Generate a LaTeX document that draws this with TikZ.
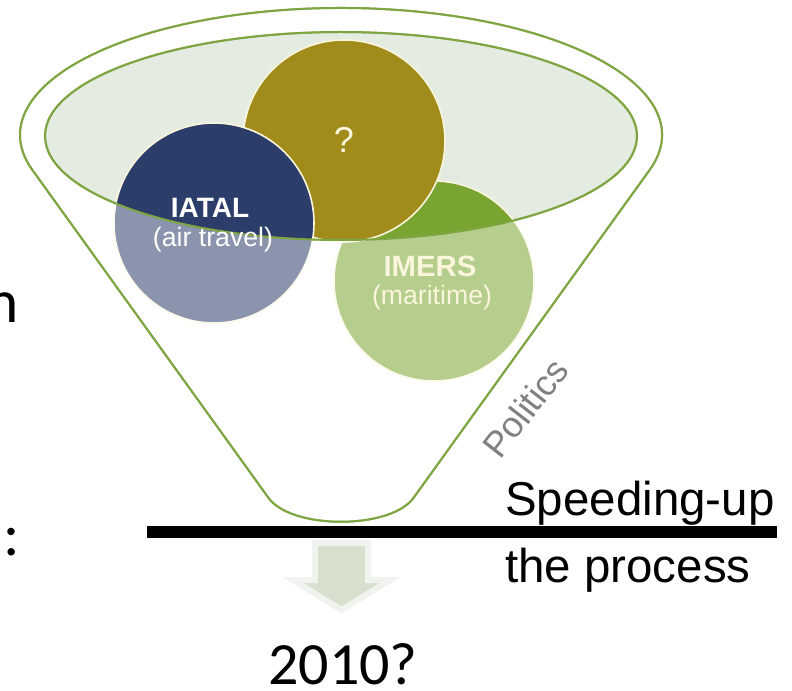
\documentclass[tikz,border=0pt]{standalone}
\usepackage{fontspec}
\setmainfont{Liberation Sans}
\newfontfamily\calfont{Carlito}
\definecolor{rimgreen}{HTML}{7EA541}
\definecolor{bowlfill}{HTML}{E4EBE0}
\definecolor{navy}{HTML}{2C3D6A}
\definecolor{olive}{HTML}{A08B1B}
\definecolor{leafgreen}{HTML}{7AA431}
\definecolor{ringcream}{HTML}{FAF6DC}
\definecolor{arrowfill}{HTML}{D6E0CC}
\definecolor{arrowglow}{HTML}{F1F4EE}
\definecolor{politicsgray}{HTML}{808080}
% outline of the funnel: top rim arc, straight sides, rounded bottom
\newcommand{\funnelOutline}{%
  (649.7,520.2) arc[start angle=-15.9, end angle=195.9, x radius=321, y radius=127]
  -- (267.9,193) .. controls (290,160) and (392,160) .. (414.1,193) -- cycle}
\newcommand{\bowlOutline}{(341,554) ellipse[x radius=296, y radius=104]}
\begin{document}
\begin{tikzpicture}[x=0.75pt,y=0.75pt,
  rimline/.style={draw=rimgreen, line width=1.5pt},
  bubble/.style={draw=ringcream, line width=1.2pt},
  bubbletitle/.style={text=white, font=\bfseries\fontsize{21}{24}\selectfont, inner sep=0pt},
  bubblesub/.style={text=white, font=\fontsize{20}{24}\selectfont, inner sep=0pt},
  sidetext/.style={font=\fontsize{35.6}{40}\selectfont, inner sep=0pt, anchor=base west},
  edgetext/.style={font=\calfont\fontsize{46}{50}\selectfont, inner sep=0pt, anchor=base east}]
\useasboundingbox (0,0) rectangle (792,690);

% funnel body and bowl
\path[fill=white, rimline] \funnelOutline;
\path[fill=bowlfill, rimline] \bowlOutline;

% the three bubbles
\fill[leafgreen, bubble] (434,409) circle[radius=100];
\fill[olive, bubble] (344,549) circle[radius=101];
\fill[navy, bubble] (214,467) circle[radius=100];

% translucent front of the funnel below the bowl
\fill[white, fill opacity=0.45, even odd rule] \funnelOutline \bowlOutline;
\draw[rimline] \bowlOutline;
\draw[rimline] \funnelOutline;

% bubble labels
\node[text=ringcream, font=\fontsize{27}{30}\selectfont, inner sep=0pt] (q) at (344,550) {?};
\node[bubbletitle] (iatal) at (210,482) {IATAL};
\node[bubblesub] (air) at (213,450) {(air travel)};
\node[bubbletitle, text=ringcream, font=\bfseries\fontsize{22}{24}\selectfont] (imers) at (430,424) {IMERS};
\node[bubblesub, text=ringcream] (sea) at (432,392) {(maritime)};

\node[text=politicsgray, font=\fontsize{27}{30}\selectfont, rotate=52, inner sep=0pt] (politics) at (525,282) {Politics};

% bar and side caption
\coordinate (barL) at (147,158);
\coordinate (barR) at (777,158);
\draw[line width=9pt] (barL) -- (barR);
\node[sidetext] (speed) at (505,175) {Speeding-up};
\node[sidetext] (proc) at (505,108) {the process};

% downward block arrow
\coordinate (a1) at (315,147);
\coordinate (a2) at (368,147);
\coordinate (a3) at (368,110);
\coordinate (a4) at (390,110);
\coordinate (a5) at (341.5,80);
\coordinate (a6) at (293,110);
\coordinate (a7) at (315,110);
\path[fill=arrowfill, draw=arrowglow, line width=4.5pt, line join=miter]
  (a1) -- (a2) -- (a3) -- (a4) -- (a5) -- (a6) -- (a7) -- cycle;

\node[font=\calfont\fontsize{45}{48}\selectfont, inner sep=0pt, anchor=base] (year) at (343,6) {2010?};

% text running in from the left edge
\node[edgetext] (frag1) at (19,368) {n};
\node[edgetext] (frag2) at (20,135) {n:};
\end{tikzpicture}
\end{document}
